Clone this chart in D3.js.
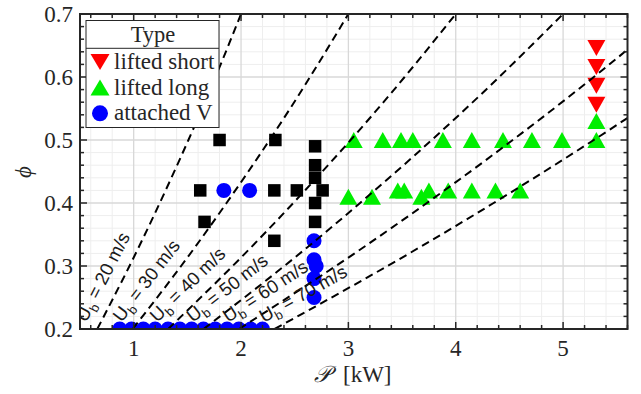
<!DOCTYPE html>
<html><head><meta charset="utf-8">
<script src="https://cdn.jsdelivr.net/npm/d3@7"></script>
<style>body{margin:0;background:#fff}svg{display:block}</style>
</head><body>
<svg id="c" width="641" height="394"></svg>
<script>
// ---- data ----
const ubValues = [20, 30, 40, 50, 60, 70];
const phiGrid = [0.2, 0.3, 0.4, 0.5, 0.6, 0.7];
const ubPower = [
  [0.661, 0.961, 1.243, 1.510, 1.762, 2.000],
  [0.991, 1.442, 1.865, 2.266, 2.643, 3.000],
  [1.321, 1.922, 2.487, 3.021, 3.524, 4.000],
  [1.652, 2.403, 3.109, 3.776, 4.405, 5.000],
  [1.982, 2.883, 3.731, 4.531, 5.286, 6.000],
  [2.313, 3.364, 4.353, 5.286, 6.167, 7.000]
];
const otherP   = [1.80, 2.32, 1.62, 2.31, 2.52, 2.76, 1.66, 2.31, 2.69, 2.69, 2.69, 2.69, 2.69];
const otherPhi = [0.50, 0.50, 0.42, 0.42, 0.42, 0.42, 0.37, 0.34, 0.49, 0.46, 0.44, 0.40, 0.37];
const attachedP   = [0.87, 0.98, 1.09, 1.20, 1.32, 1.43, 1.54, 1.65, 1.76, 1.87, 1.98, 2.09, 2.20, 1.84, 2.08, 2.68, 2.68, 2.70, 2.68, 2.68];
const attachedPhi = [0.2, 0.2, 0.2, 0.2, 0.2, 0.2, 0.2, 0.2, 0.2, 0.2, 0.2, 0.2, 0.2, 0.42, 0.42, 0.34, 0.31, 0.30, 0.28, 0.25];
const longP   = [3.05, 3.32, 3.49, 3.60, 3.88, 4.15, 4.44, 4.71, 4.99, 5.31, 5.31, 3.00, 3.22, 3.46, 3.52, 3.68, 3.75, 3.93, 4.15, 4.37, 4.60];
const longPhi = [0.50, 0.50, 0.50, 0.50, 0.50, 0.50, 0.50, 0.50, 0.50, 0.50, 0.53, 0.41, 0.41, 0.42, 0.42, 0.41, 0.42, 0.42, 0.42, 0.42, 0.42];
const shortP   = [5.31, 5.31, 5.31, 5.31];
const shortPhi = [0.646, 0.616, 0.586, 0.556];
const xTicks = [1, 2, 3, 4, 5];
const yTicks = [0.2, 0.3, 0.4, 0.5, 0.6, 0.7];
const legendTitle = "Type";
const legendLabels = ["lifted short", "lifted long", "attached V"];

// ---- layout ----
const svg = d3.select("#c");
const L = 80, R = 627.5, T = 14, B = 329;
const x = d3.scaleLinear().domain([0.5, 5.6]).range([L, R]);
const y = d3.scaleLinear().domain([0.2, 0.7]).range([B, T]);
const serif = "'Liberation Serif', 'DejaVu Serif', serif";
const sans = "'Liberation Sans', Arial, sans-serif";
const axCol = "#262626";

svg.append("defs").append("clipPath").attr("id", "clip")
  .append("rect").attr("x", L).attr("y", T).attr("width", R - L).attr("height", B - T);

// grid
const xMinor = d3.range(0.6, 5.6001, 0.2).filter(v => Math.abs(v - Math.round(v)) > 1e-6);
const yMinor = d3.range(0.2, 0.7001, 0.02).filter(v => Math.abs(v * 10 - Math.round(v * 10)) > 1e-6);
const grid = svg.append("g");
grid.selectAll(".xm").data(xMinor).join("line")
  .attr("x1", d => x(d)).attr("x2", d => x(d)).attr("y1", T).attr("y2", B)
  .attr("stroke", "#eeeeee").attr("stroke-width", 1);
grid.selectAll(".ym").data(yMinor).join("line")
  .attr("x1", L).attr("x2", R).attr("y1", d => y(d)).attr("y2", d => y(d))
  .attr("stroke", "#eeeeee").attr("stroke-width", 1);
grid.selectAll(".xM").data(xTicks).join("line")
  .attr("x1", d => x(d)).attr("x2", d => x(d)).attr("y1", T).attr("y2", B)
  .attr("stroke", "#d8d8d8").attr("stroke-width", 1.3);
grid.selectAll(".yM").data(yTicks).join("line")
  .attr("x1", L).attr("x2", R).attr("y1", d => y(d)).attr("y2", d => y(d))
  .attr("stroke", "#d8d8d8").attr("stroke-width", 1.3);

// markers
const plot = svg.append("g").attr("clip-path", "url(#clip)");
const tri = (w, h, down) => down
  ? `M${-w/2},${-h/2}L${w/2},${-h/2}L0,${h/2}Z`
  : `M${-w/2},${h/2}L${w/2},${h/2}L0,${-h/2}Z`;
const sq = 12.5;
plot.selectAll(".sq").data(otherP.map((p, i) => [p, otherPhi[i]])).join("rect")
  .attr("x", d => x(d[0]) - sq / 2).attr("y", d => y(d[1]) - sq / 2)
  .attr("width", sq).attr("height", sq).attr("fill", "#000");
plot.selectAll(".at").data(attachedP.map((p, i) => [p, attachedPhi[i]])).join("circle")
  .attr("cx", d => x(d[0])).attr("cy", d => y(d[1])).attr("r", 7.5).attr("fill", "#0000ff");
plot.selectAll(".ll").data(longP.map((p, i) => [p, longPhi[i]])).join("path")
  .attr("d", tri(18, 16, false)).attr("transform", d => `translate(${x(d[0])},${y(d[1])})`)
  .attr("fill", "#00ee00");
plot.selectAll(".ls").data(shortP.map((p, i) => [p, shortPhi[i]])).join("path")
  .attr("d", tri(18, 16, true)).attr("transform", d => `translate(${x(d[0])},${y(d[1])})`)
  .attr("fill", "#ff0000");

// constant-velocity lines
const lineGen = d3.line().x(d => x(d[0])).y(d => y(d[1])).curve(d3.curveNatural);
ubPower.forEach(row => {
  plot.append("path").datum(row.map((p, i) => [p, phiGrid[i]]))
    .attr("d", lineGen).attr("fill", "none").attr("stroke", "#000")
    .attr("stroke-width", 2).attr("stroke-dasharray", "8,5");
});

// line labels
ubValues.forEach((ub, k) => {
  const row = ubPower[k];
  const x0 = x(row[0]), y0 = y(phiGrid[0]);
  const x1 = x(row[1]), y1 = y(phiGrid[1]);
  const ang = Math.atan2(y0 - y1, x1 - x0) * 180 / Math.PI;
  const t = plot.append("text")
    .attr("transform", `translate(${x0 - 11},${y0 - 6}) rotate(${-ang})`)
    .attr("font-family", sans).attr("font-size", 18.5).attr("fill", "#1a1a1a");
  t.append("tspan").text("U");
  t.append("tspan").attr("font-size", 13).attr("dy", 5).text("b");
  t.append("tspan").attr("dy", -5).text(`\u00a0=\u00a0${ub}\u00a0m/s`);
});

// axes box and ticks
const ax = svg.append("g").attr("stroke", axCol);
ax.append("rect").attr("x", L).attr("y", T).attr("width", R - L).attr("height", B - T)
  .attr("fill", "none").attr("stroke-width", 2);
const tickLines = (vals, len, isX) => vals.forEach(v => {
  if (isX) {
    ax.append("line").attr("x1", x(v)).attr("x2", x(v)).attr("y1", B).attr("y2", B - len).attr("stroke-width", 1.5);
    ax.append("line").attr("x1", x(v)).attr("x2", x(v)).attr("y1", T).attr("y2", T + len).attr("stroke-width", 1.5);
  } else {
    ax.append("line").attr("y1", y(v)).attr("y2", y(v)).attr("x1", L).attr("x2", L + len).attr("stroke-width", 1.5);
    ax.append("line").attr("y1", y(v)).attr("y2", y(v)).attr("x1", R).attr("x2", R - len).attr("stroke-width", 1.5);
  }
});
tickLines(xTicks, 7, true); tickLines(xMinor, 4, true);
tickLines(yTicks, 7, false); tickLines(yMinor, 4, false);

svg.selectAll(".xt").data(xTicks).join("text")
  .attr("x", d => x(d)).attr("y", 355.5).attr("text-anchor", "middle")
  .attr("font-family", serif).attr("font-size", 23).attr("fill", axCol).text(d => d);
svg.selectAll(".yt").data(yTicks).join("text")
  .attr("x", 73).attr("y", d => y(d) + 7.5).attr("text-anchor", "end")
  .attr("font-family", serif).attr("font-size", 23).attr("fill", axCol).text(d => d3.format(".1f")(d));

// axis labels
const xl = svg.append("text").attr("x", 353).attr("y", 382).attr("text-anchor", "middle")
  .attr("font-family", serif).attr("font-size", 23).attr("fill", axCol);
xl.append("tspan").attr("font-style", "italic").text("𝒫");
xl.append("tspan").text("\u00a0\u00a0[kW]");
svg.append("text").attr("transform", "translate(31,172) rotate(-90)").attr("text-anchor", "middle")
  .attr("font-family", serif).attr("font-size", 23).attr("font-style", "italic").attr("fill", axCol).text("ϕ");

// legend
const lg = svg.append("g");
lg.append("rect").attr("x", 86).attr("y", 20.5).attr("width", 133).attr("height", 107)
  .attr("fill", "#fff").attr("stroke", axCol).attr("stroke-width", 1);
lg.append("line").attr("x1", 86).attr("x2", 219).attr("y1", 48.3).attr("y2", 48.3)
  .attr("stroke", axCol).attr("stroke-width", 1);
lg.append("text").attr("x", 153).attr("y", 42).attr("text-anchor", "middle")
  .attr("font-family", serif).attr("font-size", 22.5).attr("fill", axCol).text(legendTitle);
const ly = [62, 87.5, 113.3];
lg.append("path").attr("d", tri(19, 16, true)).attr("transform", `translate(100,${ly[0]})`).attr("fill", "#ff0000");
lg.append("path").attr("d", tri(19, 16, false)).attr("transform", `translate(100,${ly[1]})`).attr("fill", "#00ee00");
lg.append("circle").attr("cx", 100).attr("cy", ly[2]).attr("r", 8).attr("fill", "#0000ff");
legendLabels.forEach((s, i) => {
  lg.append("text").attr("x", 114).attr("y", ly[i] + 7).attr("font-family", serif)
    .attr("font-size", 23).attr("fill", axCol).text(s);
});
</script>
</body></html>
